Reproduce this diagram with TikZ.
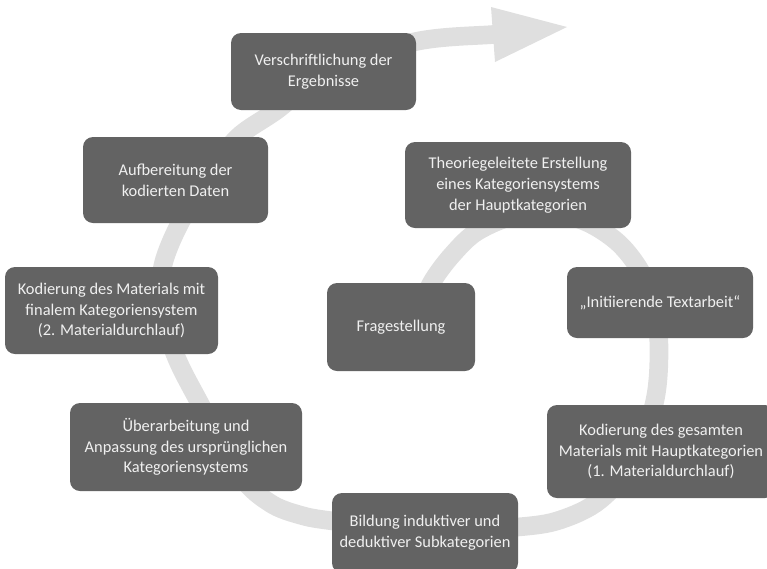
\documentclass[tikz,border=0pt]{standalone}
\usepackage{fontspec}
\setmainfont{Carlito}
\definecolor{boxgrey}{HTML}{636363}
\definecolor{txtgrey}{HTML}{F0F0F0}
\definecolor{bandgrey}{HTML}{DFDFDF}
\begin{document}
\begin{tikzpicture}[x=0.75pt,y=-0.75pt,
  box/.style={fill=boxgrey, rounded corners=7.5pt, text=txtgrey, align=center,
    inner sep=0pt, font=\fontsize{12.3pt}{15.6pt}\selectfont},
  band/.style={draw=bandgrey, line width=14pt, line join=round}]
\useasboundingbox (0,0) rectangle (767,568);
\clip (0,0) rectangle (767,568);
% spiral band
\draw[band] plot[smooth, tension=0.55] coordinates {
  (415,335) (423,305) (432,282) (452,255) (478,231) (520,215) (575,218)
  (615,240) (641,272) (655,310) (659,350) (655,400) (636,458) (600,500)
  (560,520) (518,527) (430,532) (333,521) (300,515) (270,503) (240,475)
  (198,400) (175,354) (161,305) (163,265) (180,223) (208,178) (237,138)
  (277,110) (330,70) (416,41.5) (493,34.5) (505,33.5)};
\coordinate (headtop) at (491,7);
\coordinate (headtip) at (567,27);
\coordinate (headbot) at (495,62);
\fill[bandgrey] (headtop) -- (headtip) -- (headbot) -- cycle;
% boxes
\node[box, minimum width=138.75pt, minimum height=57.75pt] (verschr) at (323.5,71.5)
  {Verschriftlichung der\\Ergebnisse};
\node[box, minimum width=138.75pt, minimum height=64.5pt] (aufb) at (175.5,180)
  {Aufbereitung der\\kodierten Daten};
\node[box, minimum width=159.75pt, minimum height=65.25pt] (kod2) at (111.5,310.5)
  {Kodierung des Materials mit\\finalem Kategoriensystem\\(2. Materialdurchlauf)};
\node[box, minimum width=174pt, minimum height=66pt] (ueber) at (186,447)
  {Überarbeitung und\\Anpassung des ursprünglichen\\Kategoriensystems};
\node[box, minimum width=139.5pt, minimum height=60pt] (bild) at (425,533)
  {Bildung induktiver und\\deduktiver Subkategorien};
\node[box, minimum width=171pt, minimum height=69.75pt] (kod1) at (661,451.5)
  {Kodierung des gesamten\\Materials mit Hauptkategorien\\(1. Materialdurchlauf)};
\node[box, minimum width=139.5pt, minimum height=53.25pt] (init) at (660,302.5)
  {„Initiierende Textarbeit“};
\node[box, minimum width=169.5pt, minimum height=64.5pt] (theo) at (518,185)
  {Theoriegeleitete Erstellung\\eines Kategoriensystems\\der Hauptkategorien};
\node[box, minimum width=111pt, minimum height=66pt] (frage) at (401,327)
  {Fragestellung};
\end{tikzpicture}
\end{document}
